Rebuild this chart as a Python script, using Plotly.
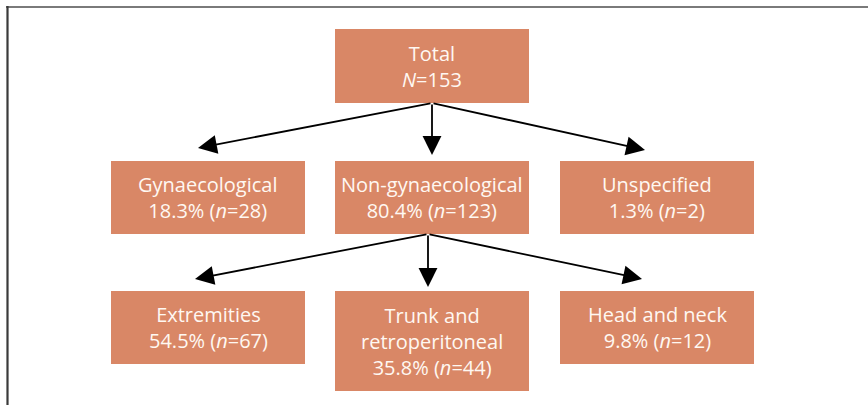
import plotly.graph_objects as go

# ---- data ----
node_names = ["Total", "Gynaecological", "Non-gynaecological", "Unspecified",
              "Extremities", "Trunk and<br>retroperitoneal", "Head and neck"]
node_counts = [153, 28, 123, 2, 67, 44, 12]
node_pcts = [None, "18.3%", "80.4%", "1.3%", "54.5%", "35.8%", "9.8%"]
parents = [None, 0, 0, 0, 2, 2, 2]

# ---- layout (pixel geometry) ----
W, H = 868, 405
boxes = [  # x0, x1, y0, y1
    (335, 529, 29, 103),
    (111, 305, 161, 234),
    (335, 529, 161, 234),
    (560, 754, 161, 234),
    (111, 305, 291, 364),
    (335, 529, 291, 391),
    (560, 754, 291, 364),
]
arrow_tips = [None, (198, 148), (432, 155), (645, 150),
              (195, 279), (428, 287), (642, 279)]
arrow_orig = {0: (432, 103), 2: (428, 234)}

FILL = "#D98766"
TXT = "#FFF8F2"
FONT = "Open Sans"

fig = go.Figure()
shapes = []
annotations = []

# frame
shapes.append(dict(type="line", x0=6, x1=W, y0=7, y1=7,
                   line=dict(color="#7a7a7a", width=2)))
shapes.append(dict(type="line", x0=7.5, x1=7.5, y0=6, y1=H,
                   line=dict(color="#3a3a3a", width=2.2)))

for i, (x0, x1, y0, y1) in enumerate(boxes):
    shapes.append(dict(type="rect", x0=x0, x1=x1, y0=y0, y1=y1,
                       fillcolor=FILL, line=dict(width=0), layer="below"))
    if node_pcts[i] is None:
        txt = f"{node_names[i]}<br><i>N</i>={node_counts[i]}"
    else:
        txt = f"{node_names[i]}<br>{node_pcts[i]} (<i>n</i>={node_counts[i]})"
    annotations.append(dict(x=(x0 + x1) / 2, y=(y0 + y1) / 2, xref="x", yref="y",
                            text=txt, showarrow=False,
                            font=dict(family=FONT, size=20, color=TXT),
                            align="center"))

for i, p in enumerate(parents):
    if p is None:
        continue
    ox, oy = arrow_orig[p]
    tx, ty = arrow_tips[i]
    annotations.append(dict(x=tx, y=ty, ax=ox, ay=oy, xref="x", yref="y",
                            axref="x", ayref="y", text="", showarrow=True,
                            arrowhead=2, arrowsize=2.1, arrowwidth=1.8,
                            arrowcolor="#000000", standoff=0, startstandoff=0))

fig.update_layout(
    width=W, height=H, autosize=False,
    margin=dict(l=0, r=0, t=0, b=0),
    paper_bgcolor="white", plot_bgcolor="white",
    xaxis=dict(range=[0, W], visible=False, fixedrange=True),
    yaxis=dict(range=[H, 0], visible=False, fixedrange=True),
    shapes=shapes, annotations=annotations, showlegend=False,
)
fig.write_html("out.html", config={"displayModeBar": False},
               post_script="document.body.style.margin='0';document.body.style.overflow='hidden';")
